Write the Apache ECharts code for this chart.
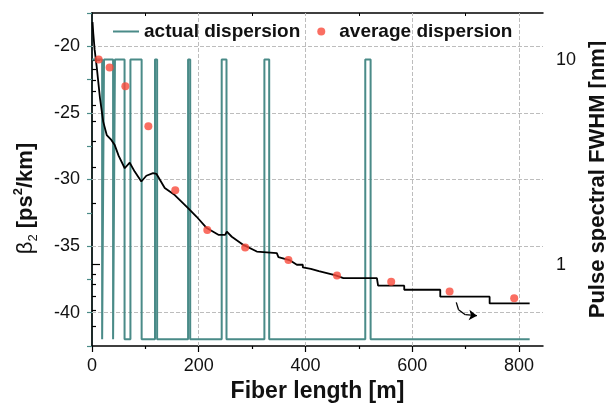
<!DOCTYPE html>
<html><head><meta charset="utf-8">
<script src="https://cdn.jsdelivr.net/npm/echarts@6/dist/echarts.min.js"></script>
<style>html,body{margin:0;padding:0;background:#fff}#c{width:606px;height:405px}</style>
</head><body><div id="c"></div>
<script>
// ---- data ----
const xMajorTicks = [0, 200, 400, 600, 800];
const xMinorTicks = [100, 300, 500, 700];
const xTopTicks = [100, 200, 300, 400, 500, 600, 700, 800];
const xGridValues = [200, 400, 600, 800];
const leftLabelValues = [-40, -35, -30, -25, -20];
const leftTickValues = [-42.5, -40, -37.5, -35, -32.5, -30, -27.5, -25, -22.5, -20, -17.5];
const rightLabelValues = [1, 10];
const rightMinorTicks = [0.5, 0.6, 0.7, 0.8, 0.9, 2, 3, 4, 5, 6, 7, 8, 9];

// actual dispersion: [fiber length m, beta2] (value held until next point)
const actualDispersion = [[0,-21],[19,-42],[22.5,-21],[39.5,-42],[43,-21],[61,-42],[72,-21],[93,-42],[118,-21],[122,-42],[180,-21],[184,-42],[243,-21],[252,-42],[323,-21],[332,-42],[512,-21],[522,-42],[820,-42]];
// average dispersion points
const averageDispersion = [[12.5,-21.0],[33,-21.6],[62.5,-23.0],[105.6,-26.0],[156,-30.8],[216,-33.8],[287,-35.1],[368,-36.05],[459,-37.2],[560.6,-37.67],[670,-38.4],[791,-38.92]];
// pulse spectral FWHM [nm]
const fwhm = [[1,15.3],[2.4,13.5],[5,11.2],[8.8,9.27],[15,6.5],[21,5.0],[27.6,4.3],[36.2,4.07],[42.6,3.84],[50,3.4],[61.3,2.96],[70.7,3.15],[80,2.85],[92.4,2.55],[101.8,2.72],[114.4,2.80],[120.6,2.78],[136.3,2.37],[155.1,2.19],[180,1.89],[195.6,1.72],[215,1.51],[236.8,1.40],[249.4,1.40],[252.6,1.45],[261.9,1.37],[283.7,1.25],[308.8,1.16],[346.3,1.14],[349.3,1.09],[371.3,1.05],[383.8,1.0],[395,1.0],[395,0.97],[410,0.955],[425,0.93],[440,0.91],[455,0.89],[471,0.861],[533.8,0.861],[536,0.79],[585,0.79],[585,0.755],[652.5,0.755],[652.5,0.698],[745,0.698],[745,0.647],[820,0.647]];
// curved arrow annotation (points along its path, in fiber length m / FWHM nm)
const arrowPath = [[682.5, 0.655], [686.8, 0.603], [699.4, 0.570], [721.3, 0.564]];

const TEAL = '#4a8b88';
const RED = '#f94a3b';
const GRID = '#bdbdbd';
const FONT = 'Liberation Sans';

const arrowSegments = [];
for (let i = 0; i < arrowPath.length - 1; i++) {
  arrowSegments.push([
    { coord: arrowPath[i], symbol: 'none' },
    { coord: arrowPath[i + 1], symbol: i === arrowPath.length - 2 ? 'arrow' : 'none' }
  ]);
}

const chart = echarts.init(document.getElementById('c'));
chart.setOption({
  animation: false,
  textStyle: { fontFamily: FONT },
  grid: { left: 92, right: 63, top: 13, bottom: 59, outerBoundsMode: 'none', containLabel: false },
  legend: {
    left: 107, top: 17, itemWidth: 26, itemHeight: 8, itemGap: 17,
    textStyle: { fontSize: 19, fontWeight: 'bold', color: '#111', fontFamily: FONT },
    data: [
      { name: 'actual dispersion', itemStyle: { opacity: 0 } },
      { name: 'average dispersion' }
    ]
  },
  xAxis: [
    {
      type: 'value', min: 0, max: 845, position: 'bottom',
      name: 'Fiber length [m]', nameLocation: 'middle', nameGap: 26,
      nameTextStyle: { fontSize: 23, fontWeight: 'bold', color: '#111' },
      axisLine: { lineStyle: { color: '#000', width: 1.5 } },
      axisTick: { customValues: xMajorTicks, length: 6, lineStyle: { color: '#000', width: 1.2 } },
      axisLabel: { customValues: xMajorTicks, fontSize: 18, color: '#111', margin: 11 },
      splitLine: { show: false }
    },
    {
      type: 'value', min: 0, max: 845, position: 'bottom',
      axisLine: { show: false },
      axisTick: { customValues: xMinorTicks, length: 3, lineStyle: { color: '#000', width: 1.2 } },
      axisLabel: { show: false }, splitLine: { show: false }
    },
    {
      type: 'value', min: 0, max: 845, position: 'top',
      axisLine: { lineStyle: { color: '#000', width: 1.5 } },
      axisTick: { customValues: xTopTicks, inside: true, length: 3, lineStyle: { color: '#000', width: 1 } },
      axisLabel: { show: false }, splitLine: { show: false }
    }
  ],
  yAxis: [
    {
      type: 'value', min: -42.5, max: -17.5, position: 'left',
      name: '{b|β}{s|2}{t| [ps}{p|2}{t|/km]}', nameLocation: 'middle', nameGap: 52,
      nameTextStyle: {
        padding: [0, 38, 0, 0],
        rich: {
          b: { fontSize: 22, color: '#111', fontFamily: FONT, lineHeight: 28 },
          s: { fontSize: 13, color: '#111', verticalAlign: 'bottom', fontFamily: FONT, lineHeight: 28 },
          t: { fontSize: 22, fontWeight: 'bold', color: '#111', fontFamily: FONT, lineHeight: 28 },
          p: { fontSize: 13, fontWeight: 'bold', color: '#111', verticalAlign: 'top', fontFamily: FONT, lineHeight: 28 }
        }
      },
      axisLine: { lineStyle: { color: TEAL, width: 1.5 } },
      axisTick: { customValues: leftTickValues, length: 5, lineStyle: { color: TEAL, width: 1.2 } },
      axisLabel: { customValues: leftLabelValues, fontSize: 18, color: '#111', margin: 12 },
      splitLine: { show: false }
    },
    {
      type: 'log', min: 0.401, max: 16.96, position: 'right',
      name: 'Pulse spectral FWHM [nm]', nameLocation: 'middle', nameGap: 37,
      nameTextStyle: { fontSize: 22, fontWeight: 'bold', color: '#111' },
      axisLine: { lineStyle: { color: '#000', width: 1.5 } },
      axisTick: { customValues: rightLabelValues, length: 8, lineStyle: { color: '#000', width: 1.2 } },
      axisLabel: { customValues: rightLabelValues, fontSize: 18, color: '#111', margin: 13 },
      splitLine: { show: false }
    },
    {
      type: 'log', min: 0.401, max: 16.96, position: 'right',
      axisLine: { show: false },
      axisTick: { customValues: rightMinorTicks, length: 4, lineStyle: { color: '#000', width: 1.2 } },
      axisLabel: { show: false }, splitLine: { show: false }
    }
  ],
  series: [
    {
      name: 'actual dispersion', type: 'line', step: 'end', symbol: 'none',
      xAxisIndex: 0, yAxisIndex: 0, data: actualDispersion,
      lineStyle: { color: TEAL, width: 2 }, itemStyle: { color: TEAL }, z: 2,
      markLine: {
        silent: true, symbol: 'none', label: { show: false }, z: 1,
        lineStyle: { color: GRID, type: 'dashed', width: 1 },
        emphasis: { disabled: true },
        data: leftLabelValues.map(v => ({ yAxis: v })).concat(xGridValues.map(v => ({ xAxis: v })))
      }
    },
    {
      name: 'FWHM', type: 'line', symbol: 'none', xAxisIndex: 0, yAxisIndex: 1, data: fwhm,
      lineStyle: { color: '#000', width: 1.8 }, itemStyle: { color: '#000' }, z: 3,
      markLine: {
        silent: true, symbolSize: 8,
        label: { show: false },
        lineStyle: { color: '#000', width: 1.3, type: 'solid' },
        data: arrowSegments
      }
    },
    {
      name: 'average dispersion', type: 'scatter', symbol: 'circle', symbolSize: 8,
      xAxisIndex: 0, yAxisIndex: 0, data: averageDispersion,
      itemStyle: { color: RED }, z: 4
    }
  ]
});
</script></body></html>
